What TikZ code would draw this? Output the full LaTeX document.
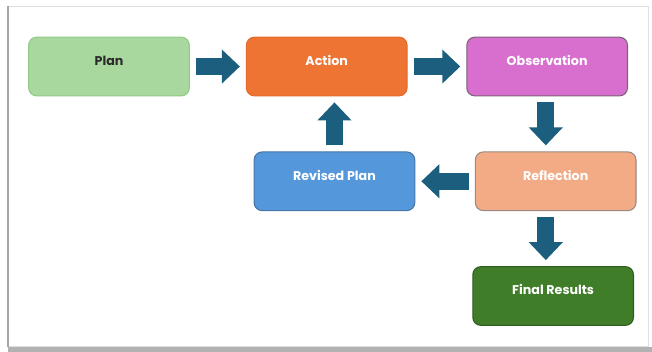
\documentclass[tikz,border=0pt]{standalone}
\usepackage{fontspec}
\setsansfont{Poppins}
\usetikzlibrary{positioning,arrows.meta}
\definecolor{planfill}{HTML}{A9D89F}
\definecolor{planline}{HTML}{8FCB83}
\definecolor{plantext}{HTML}{2B2B2B}
\definecolor{actionfill}{HTML}{ED7433}
\definecolor{actionline}{HTML}{E46B2A}
\definecolor{obsfill}{HTML}{D86FCE}
\definecolor{obsline}{HTML}{7D6379}
\definecolor{reflfill}{HTML}{F3AB86}
\definecolor{reflline}{HTML}{9A8A82}
\definecolor{revisedfill}{HTML}{5497DB}
\definecolor{revisedline}{HTML}{4877A6}
\definecolor{finalfill}{HTML}{3F7D28}
\definecolor{finalline}{HTML}{2F5E1F}
\definecolor{flowblue}{HTML}{1B5E7D}
\begin{document}
\begin{tikzpicture} [
        stage/.style={rectangle, rounded corners=6pt, line width=0.8pt,
            minimum width=120.5pt, minimum height=44pt,
            text height=6.5pt, text depth=8pt, text=white,
            font=\sffamily\bfseries\fontsize{9.5}{11}\selectfont},
        flow/.style={draw=flowblue, line width=12.75pt,
            -{Triangle[width=24.75pt,length=13.5pt]},
            shorten <=4.5pt, shorten >=4.5pt} ]
    \useasboundingbox (0,0) rectangle (489pt,-264pt);
    % frame
    \draw[black!12, line width=0.6pt] (6pt,-4.5pt) rectangle (486pt,-260pt);
    \draw[black!35, line width=1.5pt] (6pt,-4.5pt) -- (6pt,-260pt);
    \fill[black!30] (6pt,-260pt) rectangle (489pt,-264pt);
    \node[stage, fill=planfill, draw=planline, text=plantext] (plan) at (81.75pt,-49.9pt) {Plan};
    \node[stage, fill=actionfill, draw=actionline, right=42pt of plan] (action) {Action};
    \node[stage, fill=obsfill, draw=obsline, right=44pt of action] (obs) {Observation};
    \node[stage, fill=reflfill, draw=reflline, below=41.25pt of obs, xshift=6.4pt] (refl) {Reflection};
    \node[stage, fill=revisedfill, draw=revisedline, left=44.6pt of refl] (revised) {Revised Plan};
    \node[stage, fill=finalfill, draw=finalline, below=41.25pt of refl, xshift=-1.9pt] (final) {Final Results};
    \draw[flow] (plan) -- (action);
    \draw[flow] (action) -- (obs);
    \draw[flow] ([xshift=-1pt]obs.south) -- ([xshift=-1pt]obs.south |- refl.north);
    \draw[flow] (refl) -- (revised);
    \draw[flow] (revised.north) -- (revised.north |- action.south);
    \draw[flow] ([xshift=-1pt]refl.south -| obs.south) -- ([xshift=-1pt]obs.south |- final.north);
\end{tikzpicture}
\end{document}
